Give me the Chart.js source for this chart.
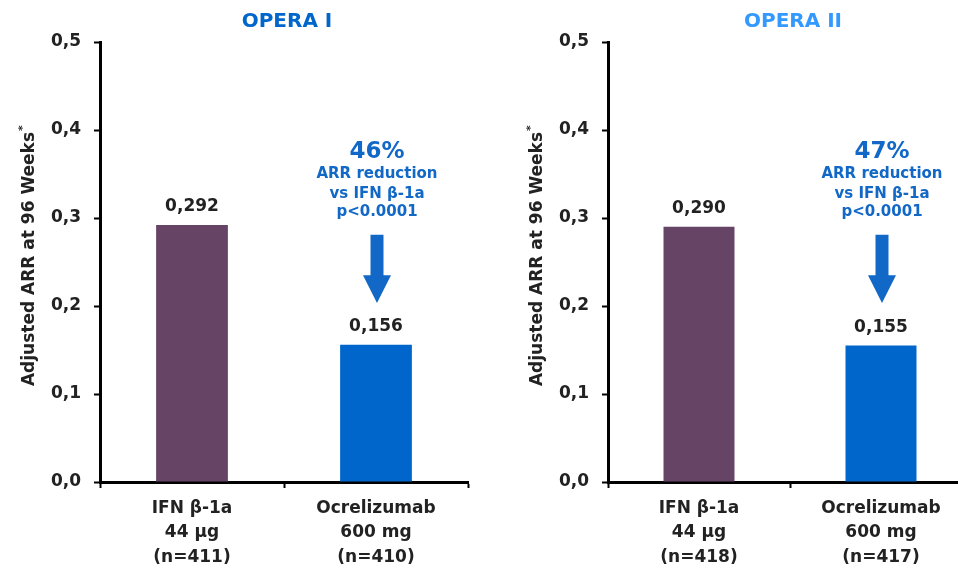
<!DOCTYPE html>
<html>
<head>
<meta charset="utf-8">
<script src="https://cdn.jsdelivr.net/npm/chart.js@4/dist/chart.umd.min.js"></script>
<style>
  html, body { margin: 0; padding: 0; background: #fff; overflow: hidden; width: 958px; height: 568px; position: relative; }
  .panel { position: absolute; top: 0; height: 568px; }
  #p1 { left: 0; width: 480px; }
  #p2 { left: 480px; width: 500px; }
  canvas { display: block; }
</style>
</head>
<body>
<div class="panel" id="p1"><canvas id="c1" width="480" height="568"></canvas></div>
<div class="panel" id="p2"><canvas id="c2" width="500" height="568"></canvas></div>
<script>
// ---- data ----
const studyNames = ['OPERA I', 'OPERA II'];
const armsOpera1 = [['IFN β-1a', '44 µg', '(n=411)'], ['Ocrelizumab', '600 mg', '(n=410)']];
const armsOpera2 = [['IFN β-1a', '44 µg', '(n=418)'], ['Ocrelizumab', '600 mg', '(n=417)']];
const arrOpera1 = [0.292, 0.156];
const arrOpera2 = [0.290, 0.155];
const reductionText = ['46%', '47%'];
const reductionLines = ['ARR reduction', 'vs IFN β-1a', 'p<0.0001'];
const yAxisTitle = 'Adjusted ARR at 96 Weeks';
const yMin = 0, yMax = 0.5, yStep = 0.1;

// ---- styling ----
const FONT = '"DejaVu Sans", "Liberation Sans", sans-serif';
const armColors = ['#664466', '#0066CC'];
const titleColors = ['#0066CC', '#3399FF'];
const noteColor = '#1268C6';
const inkColor = '#222222';

const comma = v => v.toFixed(1).replace('.', ',');
const comma3 = v => v.toFixed(3).replace('.', ',');

// Draws panel title, y-axis title, value labels, reduction note and arrow
const overlay = {
  id: 'overlay',
  afterDraw(chart, args, opts) {
    const ctx = chart.ctx;
    const area = chart.chartArea;
    const ys = chart.scales.y;
    const meta = chart.getDatasetMeta(0);
    const values = chart.data.datasets[0].data;
    ctx.save();

    // panel title
    ctx.font = 'bold 20px ' + FONT;
    ctx.fillStyle = opts.titleColor;
    ctx.textAlign = 'center';
    ctx.textBaseline = 'middle';
    ctx.fillText(opts.title, (area.left + area.right) / 2 + 3, 22);

    // rotated y-axis title with superscript asterisk
    ctx.save();
    ctx.translate(area.left - 70, (area.top + area.bottom) / 2 - 3);
    ctx.rotate(-Math.PI / 2);
    ctx.font = 'bold 17px ' + FONT;
    ctx.fillStyle = inkColor;
    ctx.textAlign = 'center';
    ctx.textBaseline = 'middle';
    ctx.fillText(yAxisTitle, 0, 0);
    const w = ctx.measureText(yAxisTitle).width;
    ctx.font = 'bold 11px ' + FONT;
    ctx.textAlign = 'left';
    ctx.fillText('*', w / 2 + 1, -7);
    ctx.restore();

    // value labels above bars
    ctx.font = 'bold 17px ' + FONT;
    ctx.fillStyle = inkColor;
    ctx.textAlign = 'center';
    ctx.textBaseline = 'alphabetic';
    meta.data.forEach((bar, i) => {
      ctx.fillText(comma3(values[i]), bar.x, bar.y - 14);
    });

    // reduction note over the second bar
    const bx = meta.data[1].x + 1;
    const y0 = ys.getPixelForValue(0.375);
    ctx.fillStyle = noteColor;
    ctx.textBaseline = 'middle';
    ctx.font = 'bold 23px ' + FONT;
    ctx.fillText(opts.reduction, bx, y0);
    ctx.font = 'bold 15px ' + FONT;
    ctx.fillText(reductionLines[0], bx, y0 + 22);
    ctx.fillText(reductionLines[1], bx, y0 + 42);
    ctx.fillText(reductionLines[2], bx, y0 + 60);

    // downward arrow
    const top = ys.getPixelForValue(0.281);
    const neck = ys.getPixelForValue(0.235);
    const tip = ys.getPixelForValue(0.2035);
    const sw = 13, hw = 28;
    ctx.beginPath();
    ctx.moveTo(bx - sw / 2, top);
    ctx.lineTo(bx + sw / 2, top);
    ctx.lineTo(bx + sw / 2, neck);
    ctx.lineTo(bx + hw / 2, neck);
    ctx.lineTo(bx, tip);
    ctx.lineTo(bx - hw / 2, neck);
    ctx.lineTo(bx - sw / 2, neck);
    ctx.closePath();
    ctx.fill();

    ctx.restore();
  }
};

function makeChart(canvasId, labels, values, idx, axisWidth, rightPad) {
  return new Chart(document.getElementById(canvasId), {
    type: 'bar',
    data: {
      labels: labels,
      datasets: [{
        data: values,
        backgroundColor: armColors,
        borderWidth: 0,
        barPercentage: 0.39,
        categoryPercentage: 1
      }]
    },
    options: {
      responsive: false,
      animation: false,
      events: [],
      layout: { padding: { left: 0, right: rightPad, top: 42, bottom: 0 } },
      plugins: {
        legend: { display: false },
        tooltip: { enabled: false },
        title: { display: false },
        overlay: { title: studyNames[idx], titleColor: titleColors[idx], reduction: reductionText[idx] }
      },
      scales: {
        x: {
          afterFit: s => { s.height = 86; },
          border: { display: true, color: '#000', width: 3 },
          grid: { display: true, drawOnChartArea: false, drawTicks: true, tickLength: 6, tickWidth: 2, tickColor: '#000', offset: true },
          ticks: {
            color: inkColor,
            padding: 8,
            maxRotation: 0,
            font: { family: FONT, size: 17, weight: 'bold', lineHeight: 1.44 }
          }
        },
        y: {
          min: yMin,
          max: yMax,
          afterFit: s => { s.width = axisWidth; },
          border: { display: true, color: '#000', width: 3 },
          grid: { display: true, drawOnChartArea: false, drawTicks: true, tickLength: 6, tickWidth: 2, tickColor: '#000' },
          ticks: {
            stepSize: yStep,
            color: inkColor,
            padding: 13,
            font: { family: FONT, size: 17, weight: 'bold' },
            callback: v => comma(v)
          }
        }
      }
    },
    plugins: [overlay]
  });
}

makeChart('c1', armsOpera1, arrOpera1, 0, 100, 12);
makeChart('c2', armsOpera2, arrOpera2, 1, 128, 8);
</script>
</body>
</html>
